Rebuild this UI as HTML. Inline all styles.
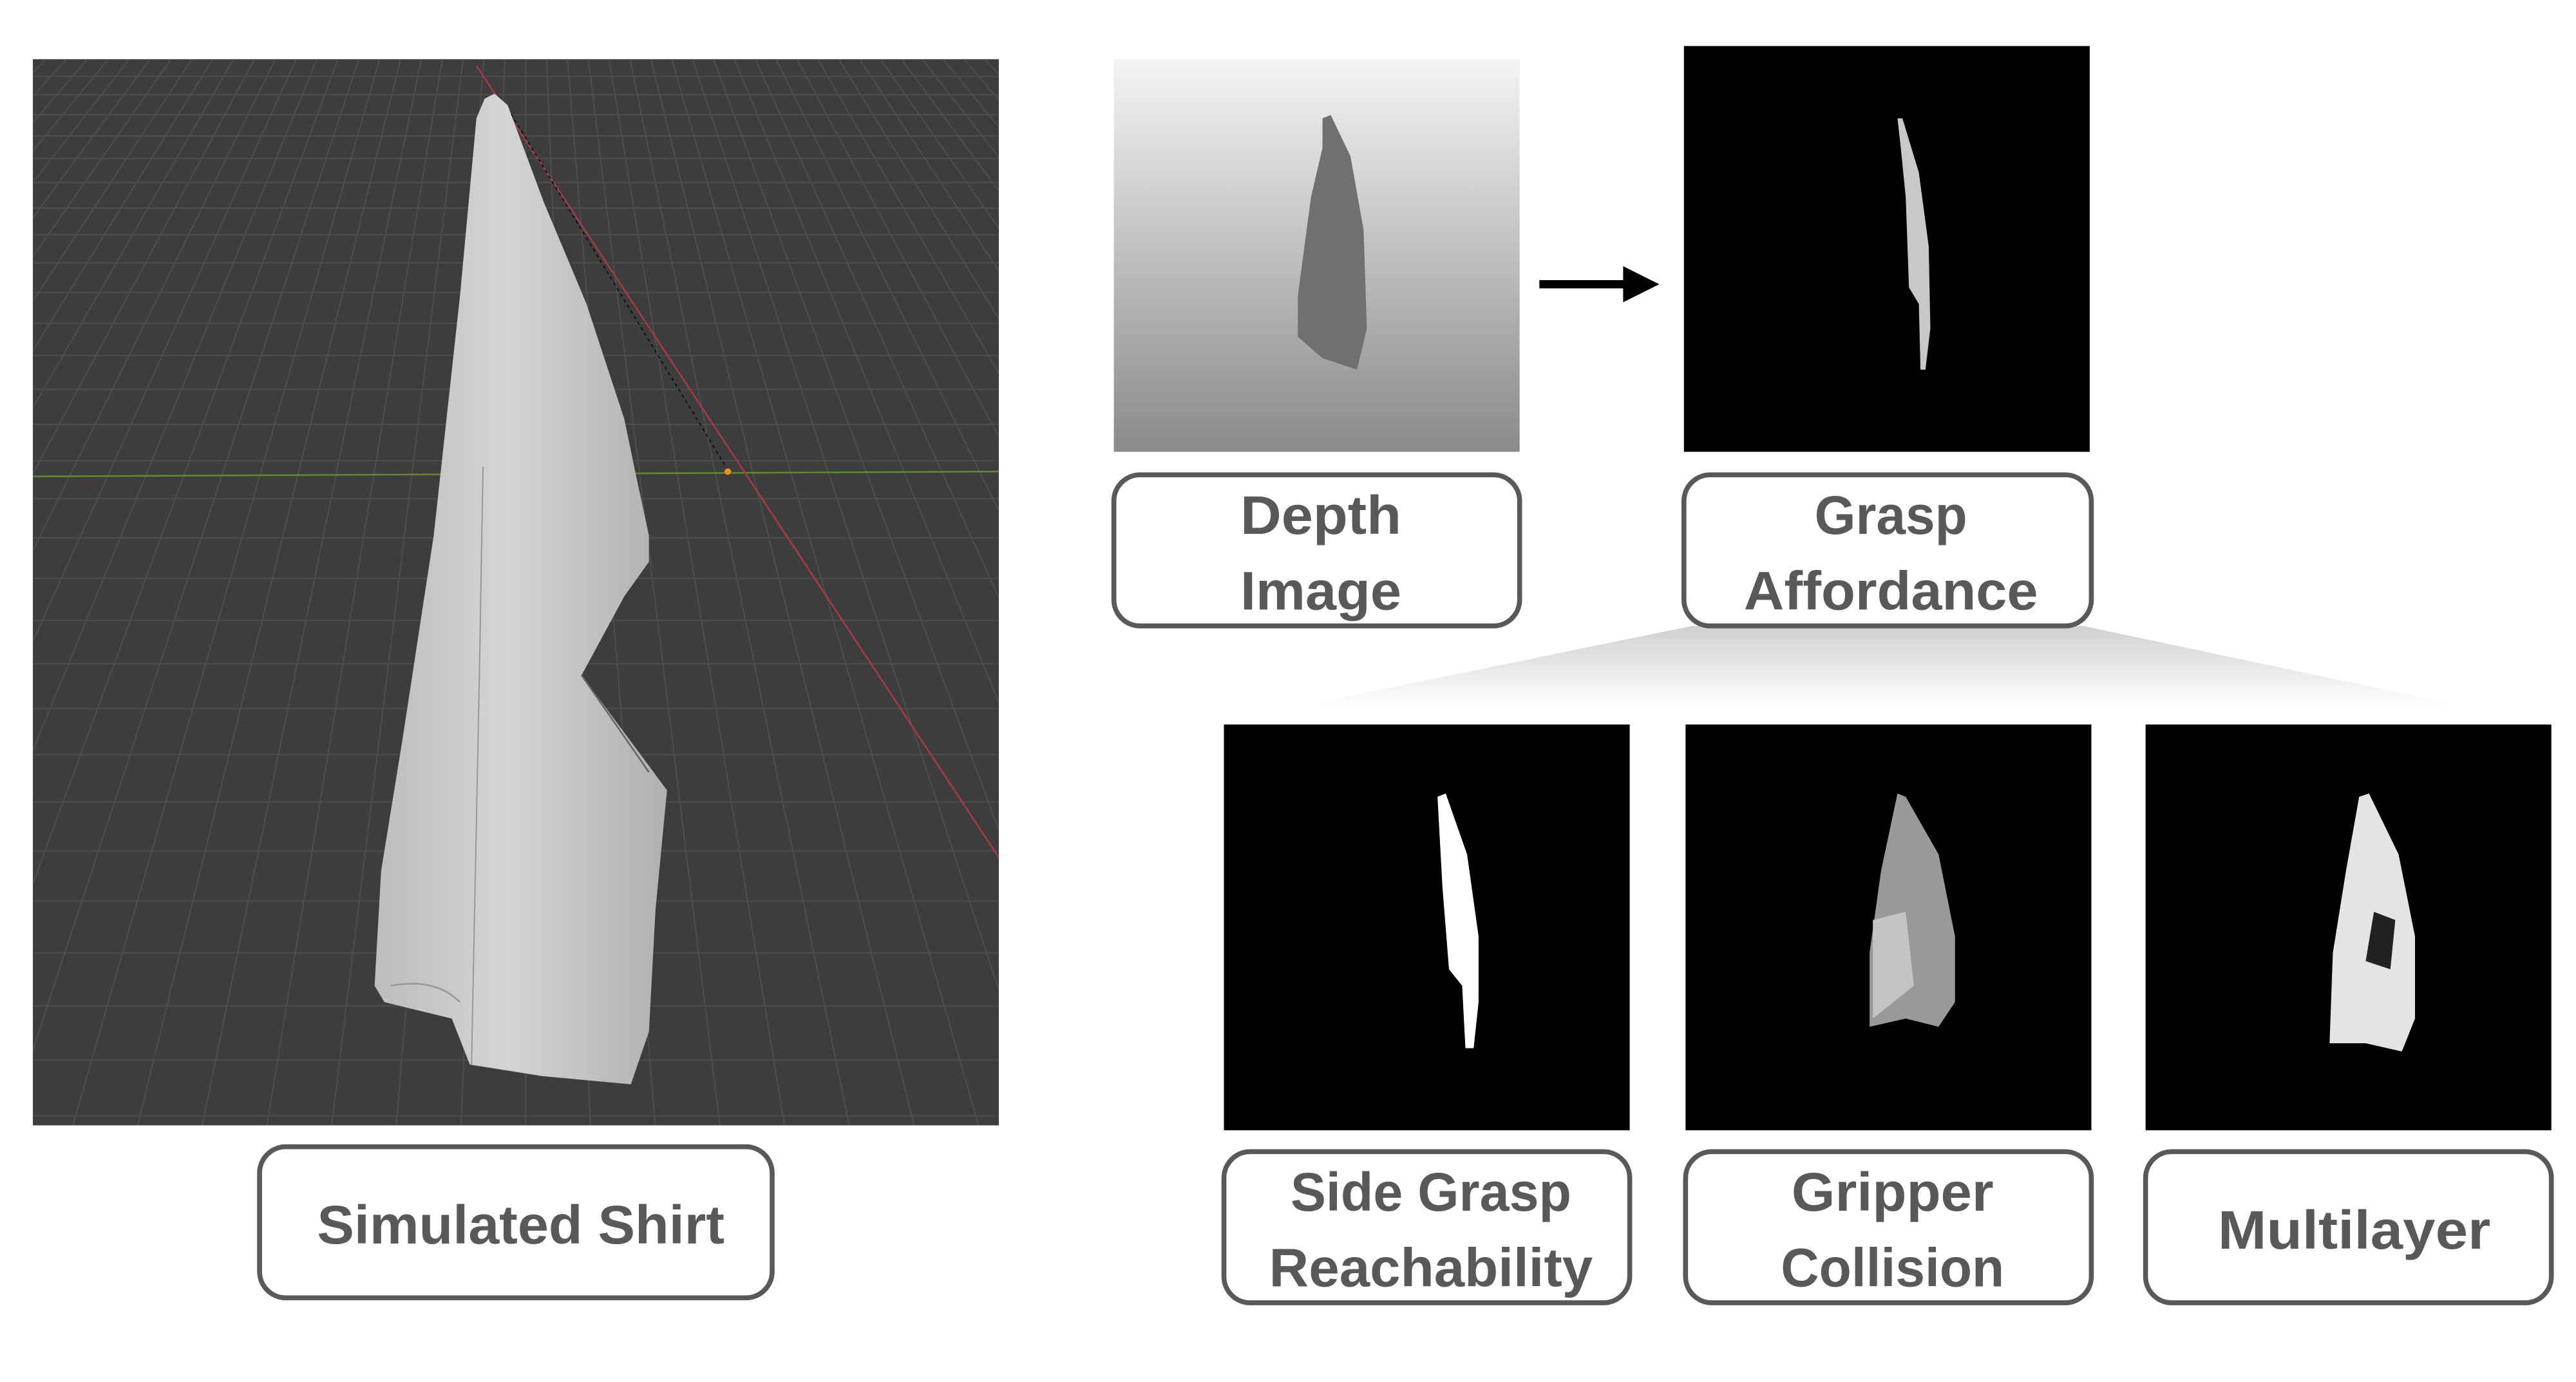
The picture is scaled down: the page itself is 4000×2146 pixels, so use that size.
<!DOCTYPE html>
<html><head><meta charset="utf-8"><style>
html,body{margin:0;padding:0;background:#fff;}
svg{display:block;}
text{font-family:"Liberation Sans",sans-serif;font-weight:bold;fill:#595959;font-size:33px;}
</style></head><body>
<svg width="4000" height="2146" viewBox="0 0 1568 841.2" xmlns="http://www.w3.org/2000/svg">
<defs>
<linearGradient id="dg" x1="0" y1="0" x2="0" y2="1"><stop offset="0" stop-color="#f4f4f4"/><stop offset="1" stop-color="#8a8a8a"/></linearGradient>
<linearGradient id="fan" x1="0" y1="0" x2="0" y2="1"><stop offset="0" stop-color="#d0d0d0"/><stop offset="1" stop-color="#ffffff"/></linearGradient>
<linearGradient id="sh" x1="0" y1="0" x2="1" y2="0"><stop offset="0" stop-color="#bdbdbd"/><stop offset="0.45" stop-color="#d4d4d4"/><stop offset="1" stop-color="#b0b0b0"/></linearGradient>
<clipPath id="vp"><rect x="20" y="36" width="588" height="649"/></clipPath>
</defs>
<g clip-path="url(#vp)">
<rect x="20" y="36" width="588" height="649" fill="#3d3d3d"/>
<g id="grid" stroke="#4d4d4d" stroke-width="0.8"></g>
<line x1="20" y1="290" x2="608" y2="287" stroke="#5f8a2e" stroke-width="1"/>
<line x1="290" y1="40" x2="608" y2="522" stroke="#a83a48" stroke-width="1"/>
<line x1="309" y1="66" x2="443" y2="286" stroke="#111" stroke-width="0.8" stroke-dasharray="2,2"/>
<circle cx="443" cy="287" r="2" fill="#f0901e"/>
<path d="M290,72 L295,60 L301,57 L309,64 L331,123 L357,185 L380,255 L386,284 L395,326 L395,342 L380,363 L354,411 L406,481 L399,554 L395,628 L384,660 L330,655 L286,648 L275,620 L234,610 L228,600 L232,530 L245,450 L264,326 L280,180 Z" fill="url(#sh)"/>
<path d="M294,284 L292,400 L287,648" stroke="#999" stroke-width="0.8" fill="none"/>
<path d="M354,411 L395,470" stroke="#666" stroke-width="1" fill="none"/>
<path d="M238,600 Q265,595 280,610" stroke="#999" stroke-width="1" fill="none"/>
</g>
<g>
<rect x="158" y="698" width="312" height="92" rx="16" fill="#fff" stroke="#595959" stroke-width="3"/>
<text x="317" y="757" text-anchor="middle" textLength="248" lengthAdjust="spacingAndGlyphs">Simulated Shirt</text>
</g>
<g>
<rect x="678" y="36" width="247" height="239" fill="url(#dg)"/>
<path d="M805,72 L810,70 L822,95 L830,140 L832,200 L826,225 L805,218 L790,205 L790,180 L798,120 L805,90 Z" fill="#707070"/>
</g>
<g>
<rect x="678" y="289" width="247" height="92" rx="16" fill="#fff" stroke="#595959" stroke-width="3"/>
<text x="804" y="325" text-anchor="middle" textLength="98" lengthAdjust="spacingAndGlyphs">Depth</text>
<text x="804" y="371" text-anchor="middle" textLength="98" lengthAdjust="spacingAndGlyphs">Image</text>
</g>
<g>
<line x1="937" y1="173" x2="992" y2="173" stroke="#000" stroke-width="5"/>
<polygon points="988,162 1010,173 988,184" fill="#000"/>
</g>
<g>
<rect x="1025" y="28" width="247" height="247" fill="#000"/>
<path d="M1155,72 L1158,72 L1168,105 L1174,150 L1175,200 L1172,225 L1169,225 L1168,185 L1162,175 L1160,120 L1157,90 Z" fill="#c8c8c8"/>
</g>
<g>
<polygon points="1030,381 1268,381 1500,430 790,430" fill="url(#fan)"/>
<rect x="1025" y="289" width="248" height="92" rx="16" fill="#fff" stroke="#595959" stroke-width="3"/>
<text x="1151" y="325" text-anchor="middle" textLength="93" lengthAdjust="spacingAndGlyphs">Grasp</text>
<text x="1151" y="371" text-anchor="middle" textLength="179" lengthAdjust="spacingAndGlyphs">Affordance</text>
</g>
<g>
<rect x="745" y="441" width="247" height="247" fill="#000"/>
<path d="M875,485 L880,483 L893,520 L900,570 L900,610 L897,638 L892,638 L890,600 L882,590 L878,540 Z" fill="#fff"/>
</g>
<g>
<rect x="1026" y="441" width="247" height="247" fill="#000"/>
<path d="M1155,483 L1160,485 L1180,520 L1190,570 L1190,610 L1180,625 L1160,620 L1138,625 L1138,580 L1145,530 Z" fill="#999"/>
<path d="M1140,560 L1160,555 L1165,600 L1140,620 Z" fill="#c4c4c4"/>
</g>
<g>
<rect x="1306" y="441" width="247" height="247" fill="#000"/>
<path d="M1436,485 L1442,483 L1460,520 L1470,570 L1470,620 L1462,640 L1440,635 L1418,635 L1420,580 L1428,530 Z" fill="#e4e4e4"/>
<path d="M1445,555 L1458,560 L1455,590 L1440,585 Z" fill="#222"/>
</g>
<g>
<rect x="745" y="701" width="247" height="92" rx="16" fill="#fff" stroke="#595959" stroke-width="3"/>
<text x="871" y="737" text-anchor="middle" textLength="171" lengthAdjust="spacingAndGlyphs">Side Grasp</text>
<text x="871" y="783" text-anchor="middle" textLength="197" lengthAdjust="spacingAndGlyphs">Reachability</text>
</g>
<g>
<rect x="1026" y="701" width="247" height="92" rx="16" fill="#fff" stroke="#595959" stroke-width="3"/>
<text x="1152" y="737" text-anchor="middle" textLength="123" lengthAdjust="spacingAndGlyphs">Gripper</text>
<text x="1152" y="783" text-anchor="middle" textLength="136" lengthAdjust="spacingAndGlyphs">Collision</text>
</g>
<g>
<rect x="1306" y="701" width="247" height="92" rx="16" fill="#fff" stroke="#595959" stroke-width="3"/>
<text x="1433" y="760" text-anchor="middle" textLength="166" lengthAdjust="spacingAndGlyphs">Multilayer</text>
</g>
</svg>
<script>
var g=document.getElementById('grid'),ns='http://www.w3.org/2000/svg';
function ln(x1,y1,x2,y2){var l=document.createElementNS(ns,'line');l.setAttribute('x1',x1);l.setAttribute('y1',y1);l.setAttribute('x2',x2);l.setAttribute('y2',y2);


g.appendChild(l);}
for(var i=-60;i<=60;i++){ln(320+i*3,-200,320+i*40,700);}
for(var k=0;k<40;k++){var y=36+k*k*0.42+k*10;if(y<690)ln(20,y,608,y);}
</script>
</body></html>
